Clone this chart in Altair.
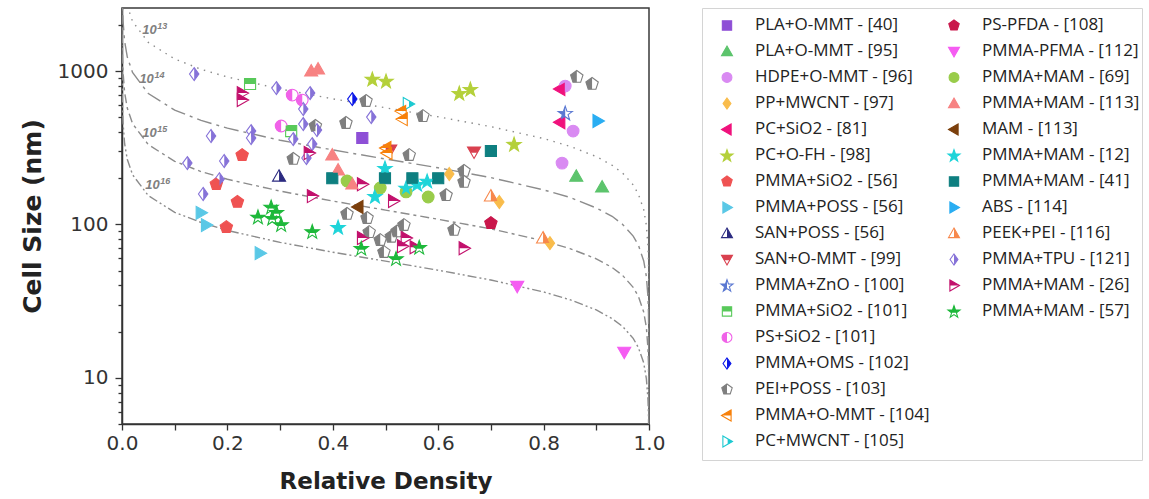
import altair as alt
import pandas as pd

# ---------------- series labels (legend order) ----------------
LABELS = [
    "PLA+O-MMT - [40]", "PLA+O-MMT - [95]", "HDPE+O-MMT - [96]", "PP+MWCNT - [97]",
    "PC+SiO2 - [81]", "PC+O-FH - [98]", "PMMA+SiO2 - [56]", "PMMA+POSS - [56]",
    "SAN+POSS - [56]", "SAN+O-MMT - [99]", "PMMA+ZnO - [100]", "PMMA+SiO2 - [101]",
    "PS+SiO2 - [101]", "PMMA+OMS - [102]", "PEI+POSS - [103]", "PMMA+O-MMT - [104]",
    "PC+MWCNT - [105]", "PS-PFDA - [108]", "PMMA-PFMA - [112]", "PMMA+MAM - [69]",
    "PMMA+MAM - [113]", "MAM - [113]", "PMMA+MAM - [12]", "PMMA+MAM - [41]",
    "ABS - [114]", "PEEK+PEI - [116]", "PMMA+TPU - [121]", "PMMA+MAM - [26]",
    "PMMA+MAM - [57]",
]

# ---------------- data: (relative density, cell size nm) ----------------
PLA_OMMT_40 = ([0.456], [366])
PLA_OMMT_95 = ([0.862, 0.911], [206, 175])
HDPE_OMMT_96 = ([0.841, 0.856, 0.835], [798, 406, 251])
PP_MWCNT_97 = ([0.621, 0.716, 0.812], [213, 140, 75.5])
PC_SIO2_81 = ([0.831, 0.831], [763, 464])
PC_OFH_98 = ([0.475, 0.501, 0.640, 0.661, 0.744], [887, 861, 718, 763, 334])
PMMA_SIO2_56 = ([0.228, 0.179, 0.219, 0.198], [283, 183, 140, 96])
PMMA_POSS_56 = ([0.150, 0.160, 0.262], [119, 99, 65])
SAN_POSS_56 = ([0.298], [206])
SAN_OMMT_99 = ([0.668, 0.509], [297, 306])
PMMA_ZNO_100 = ([0.841], [532])
PMMA_SIO2_101 = ([0.243, 0.321], [823, 406])
PS_SIO2_101 = ([0.323, 0.342, 0.302], [697, 647, 438])
PMMA_OMS_102 = ([0.437], [656])
PEI_POSS_103 = (
    [0.463, 0.425, 0.367, 0.571, 0.545, 0.325, 0.863, 0.892, 0.649, 0.649,
     0.615, 0.427, 0.465, 0.469, 0.490, 0.511, 0.522, 0.535, 0.497, 0.630],
    [637, 458, 438, 508, 283, 267, 914, 823, 223, 189,
     155, 117, 110, 89, 79, 83, 90, 99, 66, 92],
)
PMMA_OMMT_104 = ([0.530, 0.532, 0.501, 0.503], [548, 486, 315, 292])
PC_MWCNT_105 = ([0.543], [609])
PS_PFDA_108 = ([0.700], [102])
PMMA_PFMA_112 = ([0.750, 0.953], [39.5, 14.7])
PMMA_MAM_69 = ([0.427, 0.490, 0.539, 0.581], [192, 173, 163, 151])
PMMA_MAM_113 = ([0.359, 0.372, 0.399, 0.410, 0.437], [1000, 1030, 283, 226, 183])
MAM_113 = ([0.448], [130])
PMMA_MAM_12 = ([0.499, 0.480, 0.539, 0.560, 0.579, 0.410], [233, 153, 173, 183, 192, 96])
PMMA_MAM_41 = ([0.399, 0.499, 0.551, 0.600, 0.700], [200, 200, 200, 200, 301])
ABS_114 = ([0.903], [472])
PEEK_PEI_116 = ([0.700, 0.799], [153, 81.5])
PMMA_TPU_121 = (
    [0.137, 0.293, 0.357, 0.344, 0.344, 0.370, 0.473, 0.169, 0.245, 0.245,
     0.361, 0.350, 0.124, 0.194, 0.185, 0.154, 0.325],
    [955, 774, 718, 565, 451, 412, 501, 377, 406, 366,
     334, 271, 251, 259, 197, 158, 360],
)
PMMA_MAM_26 = (
    [0.228, 0.228, 0.355, 0.361, 0.456, 0.515, 0.456, 0.539, 0.532, 0.556, 0.649],
    [718, 647, 292, 153, 183, 142, 81.5, 81.5, 72, 71, 70],
)
PMMA_MAM_57 = (
    [0.283, 0.293, 0.258, 0.285, 0.302, 0.361, 0.454, 0.520, 0.564],
    [130, 120, 112, 110, 100, 90, 70, 60, 71],
)

SERIES_DATA = [
    PLA_OMMT_40, PLA_OMMT_95, HDPE_OMMT_96, PP_MWCNT_97, PC_SIO2_81, PC_OFH_98,
    PMMA_SIO2_56, PMMA_POSS_56, SAN_POSS_56, SAN_OMMT_99, PMMA_ZNO_100,
    PMMA_SIO2_101, PS_SIO2_101, PMMA_OMS_102, PEI_POSS_103, PMMA_OMMT_104,
    PC_MWCNT_105, PS_PFDA_108, PMMA_PFMA_112, PMMA_MAM_69, PMMA_MAM_113, MAM_113,
    PMMA_MAM_12, PMMA_MAM_41, ABS_114, PEEK_PEI_116, PMMA_TPU_121, PMMA_MAM_26,
    PMMA_MAM_57,
]

# ---------------- iso cell-density curves ----------------
CURVE_NAMES = ["1e13", "1e14", "1e15", "1e16"]
CURVE_RHO = [0.00001, 0.0001, 0.0005, 0.001, 0.002, 0.005, 0.01, 0.02, 0.05, 0.1, 0.15,
             0.2, 0.3, 0.4, 0.5, 0.6, 0.7, 0.8, 0.85, 0.9, 0.93, 0.95, 0.97, 0.98,
             0.99, 0.995, 0.998, 0.999, 0.9999, 0.99999, 0.9999999]
CURVE_1E13 = [26730, 12405, 7256, 5757, 4567, 3362, 2664, 2107, 1536, 1198, 1027,
              914, 764, 659, 576, 503, 434, 363, 323, 277, 243, 216, 181, 157,
              125, 98.7, 72.6, 57.6, 26.7, 12.4, 2.67]
CURVE_1E14 = [12406, 5758, 3368, 2672, 2120, 1561, 1237, 978, 713, 556, 477,
              424, 354, 306, 267, 234, 202, 168, 150, 128, 113, 100, 83.9, 73.1,
              57.8, 45.8, 33.7, 26.7, 12.4, 5.76, 1.24]
CURVE_1E15 = [5758, 2673, 1564, 1241, 984, 724, 574, 454, 331, 258, 221,
              197, 165, 142, 124, 108, 93.6, 78.2, 69.6, 59.7, 52.4, 46.5, 38.9, 33.9,
              26.8, 21.3, 15.6, 12.4, 5.76, 2.67, 0.576]
CURVE_1E16 = [2673, 1241, 726, 576, 457, 336, 266, 211, 154, 120, 103,
              91.4, 76.4, 65.9, 57.6, 50.3, 43.4, 36.3, 32.3, 27.7, 24.3, 21.6, 18.1, 15.7,
              12.5, 9.87, 7.26, 5.76, 2.67, 1.24, 0.267]
CURVE_VALUES = [CURVE_1E13, CURVE_1E14, CURVE_1E15, CURVE_1E16]

CURVE_LABEL_RHO = [0.0385, 0.033, 0.0385, 0.044]
CURVE_LABEL_SIZE = [1851, 887, 396, 180]
CURVE_LABEL_EXP = ["13", "14", "15", "16"]

# ---------------- styles ----------------
COLORS = [
    "#8E4FD6", "#5CC46C", "#D98AF2", "#F9BC4B", "#F0117C", "#B4D03A", "#EF5252",
    "#5AC8E6", "#2B2A80", "#D9404F", "#5A78D2", "#58C95A", "#F062E8", "#0B17E8",
    "#7F7F7F", "#F7800A", "#1CC9D1", "#C9174B", "#F55CF2", "#99CC4A", "#F78282",
    "#7B3F0C", "#1ED4D9", "#0E7F80", "#29ADF2", "#F7874B", "#8672D8", "#C2106C",
    "#1DB83A",
]
SHAPES = [
    "square", "triangle-up", "circle", "diamond", "triangle-left", "star", "pentagon",
    "triangle-right", "triangle-up", "triangle-down", "star", "square", "circle",
    "diamond", "pentagon", "triangle-left", "triangle-right", "pentagon",
    "triangle-down", "circle", "triangle-up", "triangle-left", "star", "square",
    "triangle-right", "triangle-up", "diamond", "triangle-right", "star",
]
FILLS = [
    "full", "full", "full", "full", "full", "full", "full", "full", "right", "top",
    "left", "top", "left", "right", "left", "top", "right", "full", "full", "full",
    "full", "full", "full", "full", "full", "right", "right", "top", "top",
]
CURVE_DASHES = [[1.5, 5.5], [15, 5, 3, 5], [9, 4, 3, 4], [9, 3, 2, 3, 2, 3]]

FULL_PATH = {
    "square": "M-0.85,-0.85L0.85,-0.85L0.85,0.85L-0.85,0.85Z",
    "circle": "M0.9,0A0.9,0.9 0 1,1 -0.9,0A0.9,0.9 0 1,1 0.9,0Z",
    "diamond": "M0,-1L0.72,0L0,1L-0.72,0Z",
    "triangle-up": "M0,-1L1,0.75L-1,0.75Z",
    "triangle-down": "M0,1L1,-0.75L-1,-0.75Z",
    "triangle-left": "M-1,0L0.75,-1L0.75,1Z",
    "triangle-right": "M1,0L-0.75,-1L-0.75,1Z",
    "pentagon": "M0,-1L0.951,-0.309L0.588,0.809L-0.588,0.809L-0.951,-0.309Z",
    "star": "M0,-1.05L0.27,-0.273L1.094,-0.255L0.437,0.243L0.676,1.03L0,0.56"
            "L-0.676,1.03L-0.437,0.243L-1.094,-0.255L-0.27,-0.273Z",
}
HALF_PATH = {
    ("triangle-up", "right"): "M0,-1L1,0.75L0,0.75Z",
    ("triangle-down", "top"): "M-1,-0.75L1,-0.75L0.5,0.125L-0.5,0.125Z",
    ("star", "left"): "M0,-1.05L0,0.56L-0.676,1.03L-0.437,0.243L-1.094,-0.255L-0.27,-0.273Z",
    ("star", "top"): "M0,-1.05L0.27,-0.273L1.094,-0.255L0.437,0.243L-0.437,0.243L-1.094,-0.255L-0.27,-0.273Z",
    ("square", "top"): "M-0.85,-0.85L0.85,-0.85L0.85,0L-0.85,0Z",
    ("circle", "left"): "M0,-0.9A0.9,0.9 0 0,0 0,0.9Z",
    ("diamond", "right"): "M0,-1L0.72,0L0,1Z",
    ("pentagon", "left"): "M0,-1L-0.951,-0.309L-0.588,0.809L0,0.809Z",
    ("triangle-left", "top"): "M-1,0L0.75,-1L0.75,0Z",
    ("triangle-right", "right"): "M0.125,-0.5L1,0L0.125,0.5Z",
    ("triangle-right", "top"): "M1,0L-0.75,-1L-0.75,0Z",
}
OUTLINE_PATHS = [FULL_PATH[s] for s in SHAPES]
FILL_PATHS = [FULL_PATH[s] if f == "full" else HALF_PATH[(s, f)] for s, f in zip(SHAPES, FILLS)]

# ---------------- tables ----------------
rows = []
for lab, (rhos, ds) in zip(LABELS, SERIES_DATA):
    for r, d in zip(rhos, ds):
        rows.append({"series": lab, "rho": r, "d": d})
points = pd.DataFrame(rows)

crow = []
for name, vals in zip(CURVE_NAMES, CURVE_VALUES):
    for r, d in zip(CURVE_RHO, vals):
        crow.append({"curve": name, "rho": r, "d": d})
curves_df = pd.DataFrame(crow)

labels_df = pd.DataFrame({"rho": CURVE_LABEL_RHO, "d": CURVE_LABEL_SIZE, "exp": CURVE_LABEL_EXP})

legend_df = pd.DataFrame({
    "series": LABELS,
    "col": [i // 17 for i in range(len(LABELS))],
    "row": [i % 17 for i in range(len(LABELS))],
})

# ---------------- encodings ----------------
AX_FONT = "DejaVu Sans"
MAJOR = "indexof([10,100,1000], datum.value) >= 0"
YTICKS = [5, 6, 7, 8, 9, 10, 20, 30, 40, 50, 60, 70, 80, 90,
          100, 200, 300, 400, 500, 600, 700, 800, 900, 1000, 2000]
XTICKS = [0, 0.1, 0.2, 0.3, 0.4, 0.5, 0.6, 0.7, 0.8, 0.9, 1.0]

x_enc = alt.X(
    "rho:Q",
    title="Relative Density",
    scale=alt.Scale(domain=[0, 1], nice=False, zero=False),
    axis=alt.Axis(
        values=XTICKS,
        labelExpr="round(datum.value*10) % 2 == 0 ? format(datum.value, '.1f') : ''",
        grid=False, tickSize=6, tickWidth=1.3, tickColor="#333", domainColor="#333",
        domainWidth=1.5, labelFont=AX_FONT, labelFontSize=20, labelColor="#333",
        labelPadding=3, labelFlush=False, labelOverlap=False,
        titleFont=AX_FONT, titleFontSize=23, titleFontWeight="bold", titleColor="#222",
        titlePadding=17,
    ),
)
y_enc = alt.Y(
    "d:Q",
    title="Cell Size (nm)",
    scale=alt.Scale(type="log", domain=[5, 2576], nice=False),
    axis=alt.Axis(
        values=YTICKS,
        labelExpr=MAJOR + " ? format(datum.value, 'd') : ''",
        tickSize={"condition": {"test": MAJOR, "value": 7}, "value": 4},
        grid=False, tickWidth=1.3, tickColor="#333", domainColor="#333",
        domainWidth=1.5, labelFont=AX_FONT, labelFontSize=20, labelColor="#333",
        labelPadding=7, labelFlush=False, labelOverlap=False,
        titleFont=AX_FONT, titleFontSize=25, titleFontWeight="bold", titleColor="#222",
        titlePadding=12,
    ),
)

curves = alt.Chart(curves_df).mark_line(clip=True, strokeWidth=1.4, color="#8c8c8c").encode(
    x=x_enc, y=y_enc,
    strokeDash=alt.StrokeDash("curve:N", scale=alt.Scale(domain=CURVE_NAMES, range=CURVE_DASHES), legend=None),
)
lab10 = alt.Chart(labels_df).mark_text(
    align="left", baseline="middle", font="Liberation Sans", fontSize=13,
    fontStyle="italic", fontWeight="bold", color="#808080",
).encode(x=x_enc, y=y_enc, text=alt.value("10"))
labexp = alt.Chart(labels_df).mark_text(
    align="left", baseline="middle", font="Liberation Sans", fontSize=9,
    fontStyle="italic", fontWeight="bold", color="#808080", dx=15, dy=-4,
).encode(x=x_enc, y=y_enc, text="exp:N")

outline = alt.Chart(points).mark_point(filled=True, size=170, strokeWidth=1.1, opacity=1).encode(
    x=x_enc, y=y_enc,
    shape=alt.Shape("series:N", scale=alt.Scale(domain=LABELS, range=OUTLINE_PATHS), legend=None),
    stroke=alt.Stroke("series:N", scale=alt.Scale(domain=LABELS, range=COLORS), legend=None),
    fill=alt.value("white"),
)
filled = alt.Chart(points).mark_point(filled=True, size=170, strokeWidth=0, opacity=1).encode(
    x=x_enc, y=y_enc,
    shape=alt.Shape("series:N", scale=alt.Scale(domain=LABELS, range=FILL_PATHS), legend=None),
    fill=alt.Fill("series:N", scale=alt.Scale(domain=LABELS, range=COLORS), legend=None),
)

main = alt.layer(curves, lab10, labexp, outline, filled).resolve_scale(
    shape="independent"
).properties(
    width=527, height=416,
    view=alt.ViewBackground(stroke="#3a3a3a", strokeWidth=1.5),
)

# ---------------- legend panel ----------------
lx = alt.X("col:Q", scale=alt.Scale(domain=[-0.1101, 1.8282], nice=False, zero=False), axis=None)
ly = alt.Y("row:Q", scale=alt.Scale(domain=[-0.673, 16.712], nice=False, zero=False, reverse=True), axis=None)

leg_outline = alt.Chart(legend_df).mark_point(filled=True, size=120, strokeWidth=1.1, opacity=1).encode(
    x=lx, y=ly,
    shape=alt.Shape("series:N", scale=alt.Scale(domain=LABELS, range=OUTLINE_PATHS), legend=None),
    stroke=alt.Stroke("series:N", scale=alt.Scale(domain=LABELS, range=COLORS), legend=None),
    fill=alt.value("white"),
)
leg_fill = alt.Chart(legend_df).mark_point(filled=True, size=120, strokeWidth=0, opacity=1).encode(
    x=lx, y=ly,
    shape=alt.Shape("series:N", scale=alt.Scale(domain=LABELS, range=FILL_PATHS), legend=None),
    fill=alt.Fill("series:N", scale=alt.Scale(domain=LABELS, range=COLORS), legend=None),
)
leg_text = alt.Chart(legend_df).mark_text(
    align="left", baseline="middle", dx=28, font="Open Sans", fontSize=17, color="#222",
).encode(x=lx, y=ly, text="series:N")

legend = alt.layer(leg_outline, leg_fill, leg_text).resolve_scale(
    shape="independent"
).properties(
    width=440, height=452,
    view=alt.ViewBackground(stroke="#d4d4d4", strokeWidth=1),
)

chart = alt.hconcat(main, legend, spacing=35).resolve_scale(
    shape="independent", fill="independent", stroke="independent", strokeDash="independent"
).properties(
    padding={"left": 19, "top": 7, "right": 0, "bottom": 0},
).configure(background="white")

chart.save("out.html", embed_options={"renderer": "svg", "actions": False})
